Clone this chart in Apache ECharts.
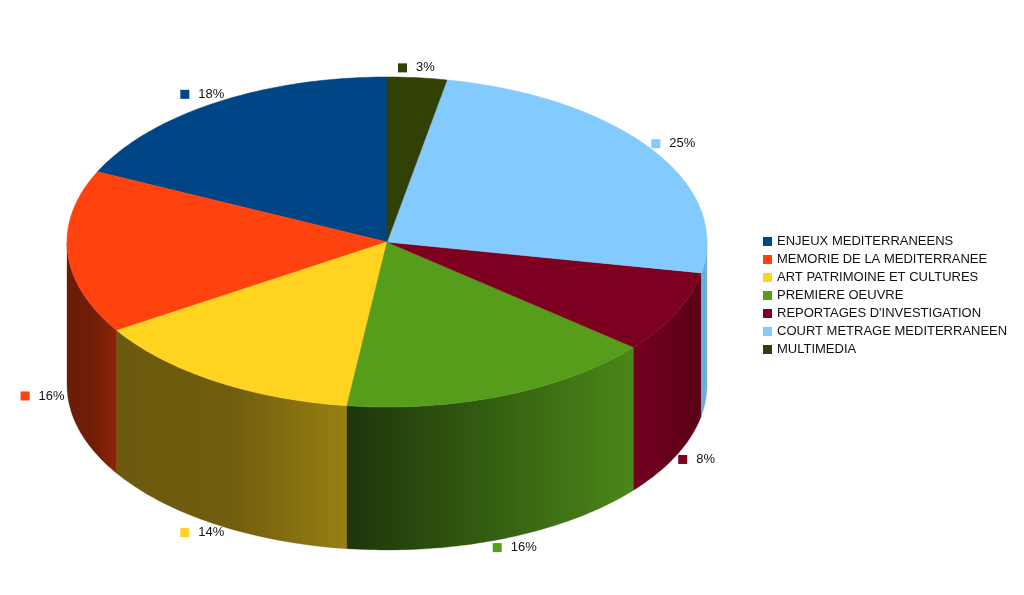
<!DOCTYPE html>
<html>
<head>
<meta charset="utf-8">
<script src="https://cdn.jsdelivr.net/npm/echarts@6/dist/echarts.min.js"></script>
<style>
html,body{margin:0;padding:0;background:#fff;}
#chart{width:1024px;height:595px;}
</style>
</head>
<body>
<div id="chart"></div>
<script>
// ---- data ----
const categories = [
  'ENJEUX MEDITERRANEENS',
  'MEMORIE DE LA MEDITERRANEE',
  'ART PATRIMOINE ET CULTURES',
  'PREMIERE OEUVRE',
  "REPORTAGES D'INVESTIGATION",
  'COURT METRAGE MEDITERRANEEN',
  'MULTIMEDIA'
];
const values = [18, 16, 14, 16, 8, 25, 3];
const colors = ['#004586', '#ff420e', '#ffd320', '#579d1c', '#7e0021', '#83caff', '#314004'];
// wall shading (brightness factors at left, middle, right) per slice
const wallShade = [[0.5,0.5,0.5],[0.42,0.44,0.55],[0.42,0.44,0.6],[0.34,0.6,0.86],[0.92,0.82,0.7],[0.85,0.85,0.85],[0.5,0.5,0.5]];

// ---- geometry of the 3D pie (layout) ----
const CX = 387, CY = 242, RX = 320, RY = 165, DEPTH = 143;
const total = values.reduce((a, b) => a + b, 0);

function shade(hex, f) {
  const n = parseInt(hex.slice(1), 16);
  const r = Math.round(((n >> 16) & 255) * f), g = Math.round(((n >> 8) & 255) * f), b = Math.round((n & 255) * f);
  return 'rgb(' + Math.min(255,r) + ',' + Math.min(255,g) + ',' + Math.min(255,b) + ')';
}
function pt(aDeg, dy) {
  const a = aDeg * Math.PI / 180;
  return [CX + RX * Math.cos(a), CY - RY * Math.sin(a) + dy];
}
function arc(a0, a1, dy) {
  const pts = [];
  const n = Math.max(2, Math.ceil(Math.abs(a1 - a0)));
  for (let i = 0; i <= n; i++) pts.push(pt(a0 + (a1 - a0) * i / n, dy));
  return pts;
}

function renderItem(params, api) {
  const idx = params.dataIndex;
  let before = 0;
  for (let i = 0; i < idx; i++) before += values[i];
  const a0 = 90 + before / total * 360;
  const a1 = a0 + api.value(0) / total * 360;
  const color = colors[idx];
  const children = [];

  // visible outer wall (front half: 180..360 deg)
  const b0 = Math.max(a0, 180), b1 = Math.min(a1, 360);
  if (b1 > b0) {
    const topArc = arc(b0, b1, 0);
    const botArc = arc(b1, b0, DEPTH);
    const sh = wallShade[idx];
    children.push({
      type: 'polygon',
      shape: { points: topArc.concat(botArc) },
      style: {
        fill: {
          type: 'linear', x: 0, y: 0, x2: 1, y2: 0,
          colorStops: [
            { offset: 0, color: shade(color, sh[0]) },
            { offset: 0.5, color: shade(color, sh[1]) },
            { offset: 1, color: shade(color, sh[2]) }
          ]
        },
        stroke: shade(color, sh[1]), lineWidth: 0.3
      }
    });
  }

  // top face
  children.push({
    type: 'polygon',
    shape: { points: [[CX, CY]].concat(arc(a0, a1, 0)) },
    style: { fill: color, stroke: color, lineWidth: 0.5 }
  });

  // label (square + percent)
  const mid = (a0 + a1) / 2 * Math.PI / 180;
  const lower = Math.sin(mid) < 0;
  const lx = CX + RX * 1.08 * Math.cos(mid);
  const ly = CY - RY * 1.06 * Math.sin(mid) + (lower ? DEPTH : 0);
  const pct = Math.round(api.value(0) / total * 100) + '%';
  children.push({
    type: 'rect',
    shape: { x: lx - 21.5, y: ly - 4.5, width: 9, height: 9 },
    style: { fill: color },
    z2: 10
  });
  children.push({
    type: 'text',
    x: lx - 3.5, y: ly,
    style: {
      text: pct, fill: '#111', fontSize: 13, fontFamily: 'Liberation Sans, Arial, sans-serif',
      verticalAlign: 'middle', align: 'left'
    },
    z2: 10
  });

  return { type: 'group', children: children };
}

const chart = echarts.init(document.getElementById('chart'), null, { renderer: 'canvas' });
chart.setOption({
  backgroundColor: '#ffffff',
  animation: false,
  legend: {
    orient: 'vertical',
    left: 763,
    top: 235,
    padding: 0,
    icon: 'rect',
    itemWidth: 9,
    itemHeight: 9,
    itemGap: 5,
    selectedMode: false,
    data: categories,
    textStyle: { color: '#111', fontSize: 13, lineHeight: 13, fontFamily: 'Liberation Sans, Arial, sans-serif', padding: [0,0,0,0] }
  },
  series: [
    {
      type: 'custom',
      coordinateSystem: 'none',
      renderItem: renderItem,
      silent: true,
      data: values.map((v, i) => ({ name: categories[i], value: [v] }))
    },
    {
      // invisible pie that only feeds the legend
      type: 'pie',
      radius: [0, 0],
      center: [CX, CY],
      silent: true,
      label: { show: false },
      labelLine: { show: false },
      data: values.map((v, i) => ({ name: categories[i], value: v, itemStyle: { color: colors[i] } }))
    }
  ]
});
</script>
</body>
</html>
